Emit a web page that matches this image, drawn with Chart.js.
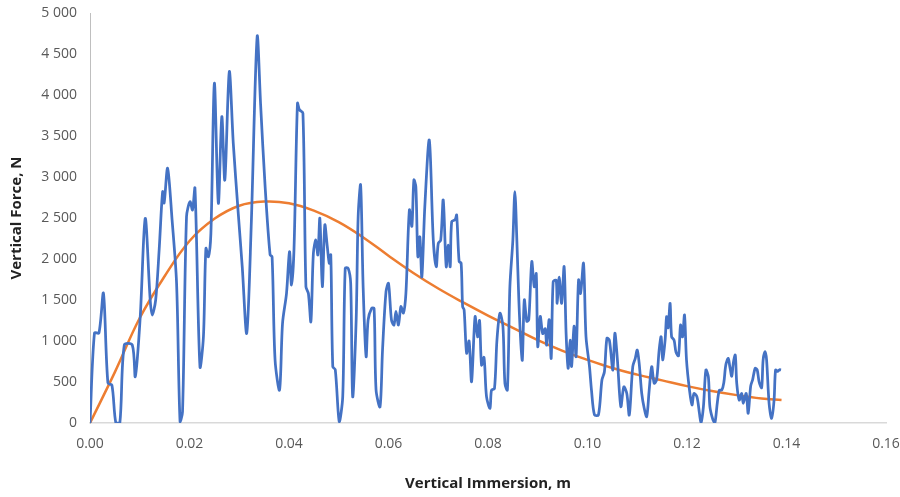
<!DOCTYPE html>
<html>
<head>
<meta charset="utf-8">
<script src="https://cdn.jsdelivr.net/npm/chart.js@4.4.0/dist/chart.umd.min.js"></script>
<style>
  html, body { margin: 0; padding: 0; background: #fff; }
  #wrap { width: 900px; height: 497px; }
</style>
</head>
<body>
<div id="wrap"><canvas id="myChart"></canvas></div>
<script>
// measured force (blue)
const forceX = [0, 0.0009, 0.0018, 0.0027, 0.0036, 0.0044, 0.0052, 0.0060, 0.0069, 0.0085,
  0.0091, 0.0101, 0.0111, 0.0121, 0.0125, 0.0132, 0.0139, 0.0146, 0.0149, 0.0156,
  0.0165, 0.0174, 0.0181, 0.0186, 0.0194, 0.0201, 0.0206, 0.0211, 0.0221, 0.0228,
  0.0233, 0.0238, 0.0243, 0.0250, 0.0258, 0.0265, 0.0271, 0.0280, 0.0288, 0.0298,
  0.0306, 0.0315, 0.0324, 0.0336, 0.0343, 0.0352, 0.0362, 0.0366, 0.0372, 0.0381,
  0.0387, 0.0395, 0.0401, 0.0405, 0.0410, 0.0417, 0.0421, 0.0428, 0.0434, 0.0439,
  0.0444, 0.0449, 0.0454, 0.0458, 0.0462, 0.0467, 0.0472, 0.0477, 0.0481, 0.0484,
  0.0488, 0.0493, 0.0501, 0.0508, 0.0513, 0.0519, 0.0524, 0.0528, 0.0535, 0.0539,
  0.0544, 0.0549, 0.0555, 0.0559, 0.0566, 0.0571, 0.0575, 0.0583, 0.0588, 0.0595,
  0.0600, 0.0606, 0.0611, 0.0615, 0.0620, 0.0625, 0.0630, 0.0635, 0.0642, 0.0647,
  0.0651, 0.0655, 0.0659, 0.0663, 0.0667, 0.0673, 0.0682, 0.0690, 0.0696, 0.0700,
  0.0705, 0.0710, 0.0716, 0.0720, 0.0724, 0.0727, 0.0734, 0.0737, 0.0742, 0.0746,
  0.0749, 0.0752, 0.0757, 0.0762, 0.0767, 0.0774, 0.0779, 0.0783, 0.0787, 0.0792,
  0.0797, 0.0804, 0.0807, 0.0813, 0.0818, 0.0824, 0.0830, 0.0834, 0.0839, 0.0844,
  0.0850, 0.0854, 0.0858, 0.0862, 0.0866, 0.0869, 0.0873, 0.0878, 0.0882, 0.0888,
  0.0893, 0.0897, 0.0900, 0.0905, 0.0910, 0.0915, 0.0918, 0.0923, 0.0927, 0.0931,
  0.0937, 0.0939, 0.0943, 0.0948, 0.0953, 0.0957, 0.0961, 0.0965, 0.0968, 0.0973,
  0.0977, 0.0982, 0.0986, 0.0992, 0.0997, 0.1004, 0.1008, 0.1014, 0.1022, 0.1029,
  0.1034, 0.1039, 0.1044, 0.1051, 0.1055, 0.1060, 0.1067, 0.1073, 0.1079, 0.1084,
  0.1091, 0.1096, 0.1100, 0.1104, 0.1109, 0.1114, 0.1119, 0.1124, 0.1129, 0.1134,
  0.1139, 0.1144, 0.1148, 0.1151, 0.1156, 0.1159, 0.1162, 0.1166, 0.1169, 0.1174,
  0.1178, 0.1183, 0.1187, 0.1191, 0.1195, 0.1199, 0.1205, 0.1210, 0.1214, 0.1220,
  0.1225, 0.1228, 0.1233, 0.1238, 0.1243, 0.1246, 0.1252, 0.1256, 0.1261, 0.1265,
  0.1270, 0.1274, 0.1278, 0.1283, 0.1286, 0.1290, 0.1293, 0.1297, 0.1300, 0.1305,
  0.1310, 0.1313, 0.1319, 0.1323, 0.1328, 0.1332, 0.1337, 0.1341, 0.1345, 0.1350,
  0.1353, 0.1357, 0.1360, 0.1365, 0.1370, 0.1375, 0.1378, 0.1382, 0.1386, 0.1389];
const forceY = [0, 1098, 1098, 1582, 488, 463, 0, 0, 951, 951,
  565, 1297, 2496, 1500, 1317, 1500, 2110, 2821, 2683, 3106,
  2476, 1707, 16, 138, 2516, 2699, 2598, 2862, 687, 1052,
  2130, 2028, 2313, 4143, 2679, 3736, 2963, 4284, 3411, 2557,
  1906, 1094, 2394, 4711, 3878, 2882, 2049, 2028, 768, 402,
  1216, 1582, 2089, 1683, 2110, 3899, 3820, 3777, 1663, 1580,
  1236, 2069, 2232, 2050, 2496, 1663, 2415, 2150, 1947, 2050,
  687, 650, 16, 321, 1886, 1886, 1703, 321, 1256, 2516,
  2902, 1663, 809, 1256, 1398, 1398, 402, 199, 890, 1601,
  1703, 1256, 1195, 1360, 1195, 1420, 1340, 1582, 2598, 2400,
  2963, 2880, 2028, 2270, 1781, 2638, 3451, 2232, 1906, 2190,
  2230, 2720, 1906, 2170, 1906, 2455, 2480, 2537, 1967, 1950,
  1419, 1380, 850, 1000, 504, 1297, 1050, 1250, 707, 800,
  321, 179, 400, 420, 1012, 1338, 1180, 484, 402, 1663,
  2232, 2821, 2232, 1500, 972, 768, 1500, 1240, 1260, 1967,
  1660, 1820, 931, 1300, 1090, 1150, 950, 1260, 789, 1723,
  1740, 1460, 1780, 1460, 1906, 1090, 667, 1010, 690, 1180,
  810, 1744, 1580, 1947, 1052, 687, 400, 98, 98, 524,
  625, 1033, 1010, 646, 1094, 780, 199, 440, 360, 98,
  687, 789, 890, 720, 362, 179, 77, 400, 687, 484,
  530, 890, 1052, 770, 1010, 1297, 1160, 1459, 1052, 1010,
  860, 820, 1195, 1050, 1317, 768, 402, 220, 360, 320,
  118, 0, 200, 646, 560, 199, 40, 0, 250, 400,
  402, 490, 707, 789, 690, 570, 730, 829, 484, 280,
  360, 240, 360, 118, 450, 530, 667, 650, 500, 430,
  768, 870, 768, 240, 57, 280, 646, 630, 650, 646];

// trend curve (orange)
const trendX = [0, 0.005, 0.01, 0.015, 0.02, 0.025, 0.03, 0.035, 0.04, 0.045,
  0.05, 0.055, 0.06, 0.065, 0.07, 0.075, 0.08, 0.085, 0.09, 0.095,
  0.1, 0.105, 0.11, 0.115, 0.12, 0.125, 0.13, 0.135, 0.139];
const trendY = [0, 620, 1280, 1790, 2220, 2490, 2650, 2700, 2680, 2590,
  2450, 2260, 2040, 1830, 1640, 1470, 1310, 1160, 1010, 880,
  770, 670, 590, 520, 450, 390, 340, 300, 280];

const xTicks = { min: 0, max: 0.16, step: 0.02 };
const yTicks = { min: 0, max: 5000, step: 500 };

const xLabel = 'Vertical Immersion, m';
const yLabel = 'Vertical Force, N';

const FONT = "'Open Sans', sans-serif";

function pts(xs, ys) {
  return xs.map((x, i) => ({ x: x, y: ys[i] }));
}

function fmtThousands(v) {
  if (v < 1000) return String(v);
  return Math.floor(v / 1000) + ' ' + String(v % 1000).padStart(3, '0');
}

const ctx = document.getElementById('myChart').getContext('2d');
const myChart = new Chart(ctx, {
  type: 'line',
  data: {
    datasets: [{
      label: 'Force',
      data: pts(forceX, forceY),
      borderColor: '#4472C4',
      borderWidth: 2.75,
      pointRadius: 0,
      tension: 0.3,
      fill: false
    }, {
      label: 'Trend',
      data: pts(trendX, trendY),
      borderColor: '#ED7D31',
      borderWidth: 2.5,
      pointRadius: 0,
      tension: 0.4,
      fill: false
    }]
  },
  options: {
    responsive: true,
    maintainAspectRatio: false,
    animation: false,
    layout: { padding: { top: 13, right: 14, left: 0, bottom: 0 } },
    plugins: {
      legend: { display: false },
      tooltip: { enabled: false }
    },
    scales: {
      x: {
        type: 'linear',
        min: xTicks.min,
        max: xTicks.max,
        grid: { display: false, drawTicks: false },
        border: { color: '#d9d9d9', width: 1.5 },
        ticks: {
          stepSize: xTicks.step,
          color: '#595959',
          padding: 13,
          font: { family: FONT, size: 14 },
          callback: v => Number(v).toFixed(2)
        },
        title: {
          display: true,
          text: xLabel,
          color: '#222',
          font: { family: FONT, size: 15, weight: 'bold' },
          padding: { top: 16 }
        },
        afterFit: s => { s.height = 74; s.paddingLeft = 0; s.paddingRight = 0; }
      },
      y: {
        min: yTicks.min,
        max: yTicks.max,
        grid: { display: false, drawTicks: false },
        border: { color: '#bfbfbf', width: 1 },
        ticks: {
          stepSize: yTicks.step,
          color: '#595959',
          padding: 13,
          font: { family: FONT, size: 14 },
          callback: v => fmtThousands(v)
        },
        title: {
          display: true,
          text: yLabel,
          color: '#222',
          font: { family: FONT, size: 15, weight: 'bold' },
          padding: { top: 8, bottom: 0 }
        },
        afterFit: s => { s.width = 90; s.paddingTop = 0; s.paddingBottom = 0; }
      }
    }
  }
});
</script>
</body>
</html>
